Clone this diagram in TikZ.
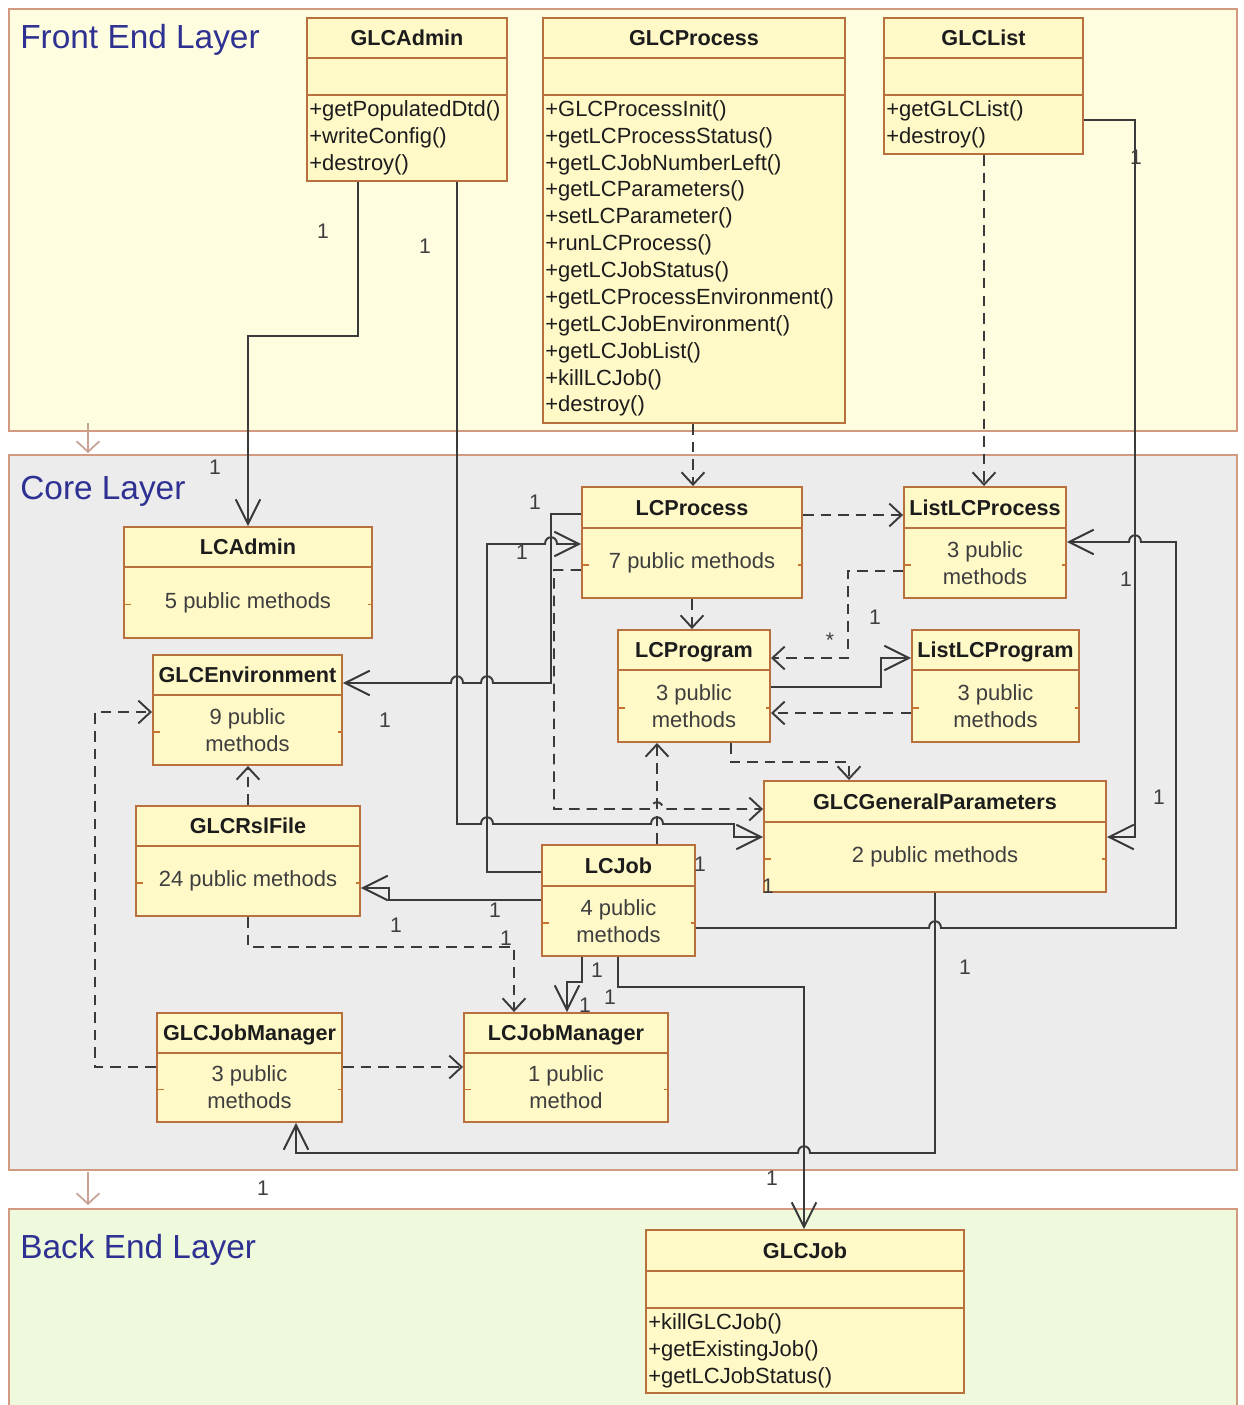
\documentclass[tikz,border=0pt]{standalone}
\usepackage{fontspec}
\setmainfont{Liberation Sans}
\usetikzlibrary{arrows.meta,fit,calc}
\definecolor{clsfill}{HTML}{FFF9C8}
\definecolor{clsborder}{HTML}{B8703E}
\definecolor{frontfill}{HTML}{FFFDE0}
\definecolor{corefill}{HTML}{ECECEC}
\definecolor{backfill}{HTML}{EFFADC}
\definecolor{layerborder}{HTML}{D39A82}
\definecolor{layertitle}{HTML}{2E3192}
\definecolor{lncol}{HTML}{3A3A3A}
\definecolor{txt}{HTML}{1C1C1C}
\definecolor{layerarrow}{HTML}{C9A295}
\newcommand{\hopR}[2]{-- ({#1-6},#2) .. controls ({#1-6},{#2-9}) and ({#1+6},{#2-9}) .. ({#1+6},#2)}
\newcommand{\hopL}[2]{-- ({#1+6},#2) .. controls ({#1+6},{#2-9}) and ({#1-6},{#2-9}) .. ({#1-6},#2)}
% class with header and body: name x0 y0 x1 y1 yh title body
\newcommand{\umlcls}[8]{%
  \node[clsbox, fit={(#2,#3) (#4,#5)}] (#1) {};
  \draw[cline] (#2,#6) -- (#4,#6);
  \node[ttl] (#1-title) at ({(#2+#4)/2},{(#3+#6)/2}) {#7};
  \node[bodytxt] (#1-body) at ({(#2+#4)/2},{(#6+#5)/2}) {#8};
  \draw[tickmark] (#2,{(#6+#5)/2+2}) -- ++(7,0);
  \draw[tickmark] (#4,{(#6+#5)/2+2}) -- ++(-4,0);
}
% full class: name x0 y0 x1 y1 yh ya title ops
\newcommand{\umlfull}[9]{%
  \node[clsbox, fit={(#2,#3) (#4,#5)}] (#1) {};
  \draw[cline] (#2,#6) -- (#4,#6);
  \draw[cline] (#2,#7) -- (#4,#7);
  \node[ttl] (#1-title) at ({(#2+#4)/2},{(#3+#6)/2}) {#8};
  \node[opstxt] (#1-ops) at ({#2+2},{#7+5}) {#9};
}
\begin{document}
\begin{tikzpicture}[x=0.02cm,y=-0.02cm,
  clsbox/.style={draw=clsborder, fill=clsfill, line width=1.1pt, inner sep=0pt},
  cline/.style={draw=clsborder, line width=1.4pt},
  tickmark/.style={draw=clsborder!80!orange, line width=0.9pt},
  ttl/.style={font=\fontsize{12.3}{14}\selectfont\bfseries, text=txt, inner sep=0pt, text height=9pt, text depth=0pt},
  bodytxt/.style={font=\fontsize{12.5}{15.3}\selectfont, text=txt!85, align=center, inner sep=0pt},
  opstxt/.style={font=\fontsize{12.5}{15.3}\selectfont, text=txt, align=left, anchor=north west, inner sep=0pt},
  assoc/.style={draw=lncol, line width=1.1pt, -{Straight Barb[length=14pt,width=14pt,line width=1.1pt]}},
  dep/.style={draw=lncol, line width=1.1pt, dash pattern=on 6pt off 4pt, -{Straight Barb[length=7pt,width=13pt,line width=1.1pt]}},
  mult/.style={font=\fontsize{12}{14}\selectfont, text=txt!85, inner sep=0pt, text height=8.5pt, text depth=0pt},
  layertxt/.style={font=\fontsize{19}{22}\selectfont, text=layertitle, anchor=west, inner sep=0pt, text height=13.5pt, text depth=0pt},
  layerbox/.style={draw=layerborder, line width=1.2pt},
  layerdep/.style={draw=layerarrow, line width=1pt, -{Straight Barb[length=6pt,width=13pt,line width=1pt]}}
]
\useasboundingbox (0,0) rectangle (1243,1405);
\fill[white] (0,0) rectangle (1243,1405);
% layers
\draw[layerbox, fill=frontfill] (9,9) rectangle (1237,431);
\draw[layerbox, fill=corefill] (9,455) rectangle (1237,1170);
\fill[backfill] (9,1209) rectangle (1237,1405);
\draw[layerbox] (9,1405) |- (1237,1209) -- (1237,1405);
\node[layertxt] (frontT) at (20,37) {Front End Layer};
\node[layertxt] (coreT) at (20,488) {Core Layer};
\node[layertxt] (backT) at (20,1247) {Back End Layer};
\coordinate (la1) at (88,423);
\coordinate (la2) at (88,453);
\coordinate (lb1) at (88,1172);
\coordinate (lb2) at (88,1205);
\draw[layerdep] (la1) -- (la2);
\draw[layerdep] (lb1) -- (lb2);

% front end classes
\umlfull{GLCAdmin}{307}{18}{507}{181}{58}{95}{GLCAdmin}{+getPopulatedDtd()\\+writeConfig()\\+destroy()}
\umlfull{GLCProcess}{543}{18}{845}{423}{58}{95}{GLCProcess}{+GLCProcessInit()\\+getLCProcessStatus()\\+getLCJobNumberLeft()\\+getLCParameters()\\+setLCParameter()\\+runLCProcess()\\+getLCJobStatus()\\+getLCProcessEnvironment()\\+getLCJobEnvironment()\\+getLCJobList()\\+killLCJob()\\+destroy()}
\umlfull{GLCList}{884}{18}{1083}{154}{58}{95}{GLCList}{+getGLCList()\\+destroy()}
% back end
\umlfull{GLCJob}{646}{1230}{964}{1393}{1271}{1308}{GLCJob}{+killGLCJob()\\+getExistingJob()\\+getLCJobStatus()}

% core classes
\umlcls{LCAdmin}{124}{527}{372}{638}{567}{LCAdmin}{5 public methods}
\umlcls{LCProcess}{582}{487}{802}{598}{528}{LCProcess}{7 public methods}
\umlcls{ListLCProcess}{904}{487}{1066}{598}{528}{ListLCProcess}{3 public\\methods}
\umlcls{LCProgram}{618}{630}{770}{742}{670}{LCProgram}{3 public\\methods}
\umlcls{ListLCProgram}{912}{630}{1079}{742}{670}{ListLCProgram}{3 public\\methods}
\umlcls{GLCEnv}{153}{655}{342}{765}{695}{GLCEnvironment}{9 public\\methods}
\umlcls{GLCRsl}{136}{806}{360}{916}{846}{GLCRslFile}{24 public methods}
\umlcls{GLCGP}{764}{781}{1106}{892}{822}{GLCGeneralParameters}{2 public methods}
\umlcls{LCJob}{542}{845}{695}{956}{886}{LCJob}{4 public\\methods}
\umlcls{GLCJobMgr}{157}{1013}{342}{1122}{1053}{GLCJobManager}{3 public\\methods}
\umlcls{LCJobMgr}{464}{1013}{668}{1122}{1053}{LCJobManager}{1 public\\method}

% connectors
\draw[assoc] (358,0 |- GLCAdmin.south) -- (358,336) -| (LCAdmin.north);
\draw[assoc] (457,0 |- GLCAdmin.south) -- (457,824) \hopR{487}{824} \hopR{657}{824} -- (734,824) -- (734,837) -- (GLCGP.west |- 0,837);
\draw[assoc] (LCProcess.west |- 0,514) -- (551,514) -- (551,683) \hopL{487}{683} \hopL{457}{683} -- (GLCEnv.east |- 0,683);
\draw[assoc] (LCJob.west |- 0,872) -- (487,872) -- (487,544) \hopR{551}{544} -- (LCProcess.west |- 0,544);
\draw[assoc] (LCJob.west |- 0,900) -- (389,900) -- (389,888) -- (GLCRsl.east |- 0,888);
\draw[dep] (GLCRsl.north) -- (GLCRsl.north |- GLCEnv.south);
\draw[dep] (GLCRsl.south) |- (514,947) -- (514,0 |- LCJobMgr.north);
\draw[dep] (GLCJobMgr.west |- 0,1067) -| (95,712) -- (GLCEnv.west |- 0,712);
\draw[dep] (GLCJobMgr.east |- 0,1067) -- (LCJobMgr.west |- 0,1067);
\draw[assoc] (582,0 |- LCJob.south) -- (582,982) -| (567,0 |- LCJobMgr.north);
\draw[assoc] (618,0 |- LCJob.south) |- (804,987) -- (804,0 |- GLCJob.north);
\draw[assoc] (935,0 |- GLCGP.south) -- (935,1153) \hopL{804}{1153} -- (296,1153) -- (296,0 |- GLCJobMgr.south);
\draw[assoc] (LCJob.east |- 0,928) \hopR{935}{928} -- (1176,928) -- (1176,542) \hopL{1135}{542} -- (ListLCProcess.east |- 0,542);
\draw[assoc] (GLCList.east |- 0,120) -- (1135,120) -- (1135,837) -- (GLCGP.east |- 0,837);
\draw[dep] (984,0 |- GLCList.south) -- (984,0 |- ListLCProcess.north);
\draw[dep] (693,0 |- GLCProcess.south) -- (693,0 |- LCProcess.north);
\draw[dep] (LCProcess.east |- 0,515) -- (ListLCProcess.west |- 0,515);
\draw[dep] (692,0 |- LCProcess.south) -- (692,0 |- LCProgram.north);
\draw[dep] (ListLCProcess.west |- 0,571) -| (848,658) -- (LCProgram.east |- 0,658);
\draw[assoc] (LCProgram.east |- 0,687) -| (881,658) -- (ListLCProgram.west |- 0,658);
\draw[dep] (ListLCProgram.west |- 0,713) -- (LCProgram.east |- 0,713);
\draw[dep] (731,0 |- LCProgram.south) |- (849,762) -- (849,0 |- GLCGP.north);
\draw[dep] (657,0 |- LCJob.north) -- (657,0 |- LCProgram.south);
\draw[dep] (LCProcess.west |- 0,570) -- (554,570) -- (554,809) \hopR{657}{809} -- (GLCGP.west |- 0,809);

% multiplicities
\node[mult] (m1) at (323,231) {1};
\node[mult] (m2) at (425,246) {1};
\node[mult] (m3) at (215,467) {1};
\node[mult] (m4) at (535,502) {1};
\node[mult] (m5) at (522,552) {1};
\node[mult] (m6) at (385,720) {1};
\node[mult] (m7) at (875,617) {1};
\node[mult] (m8) at (830,640) {*};
\node[mult] (m9) at (1126,579) {1};
\node[mult] (m10) at (1136,157) {1};
\node[mult] (m11) at (1159,797) {1};
\node[mult] (m12) at (700,864) {1};
\node[mult] (m13) at (768,886) {1};
\node[mult] (m14) at (495,910) {1};
\node[mult] (m15) at (506,938) {1};
\node[mult] (m16) at (396,925) {1};
\node[mult] (m17) at (597,970) {1};
\node[mult] (m18) at (610,997) {1};
\node[mult] (m19) at (585,1005) {1};
\node[mult] (m20) at (965,967) {1};
\node[mult] (m21) at (263,1188) {1};
\node[mult] (m22) at (772,1178) {1};
\end{tikzpicture}
\end{document}
